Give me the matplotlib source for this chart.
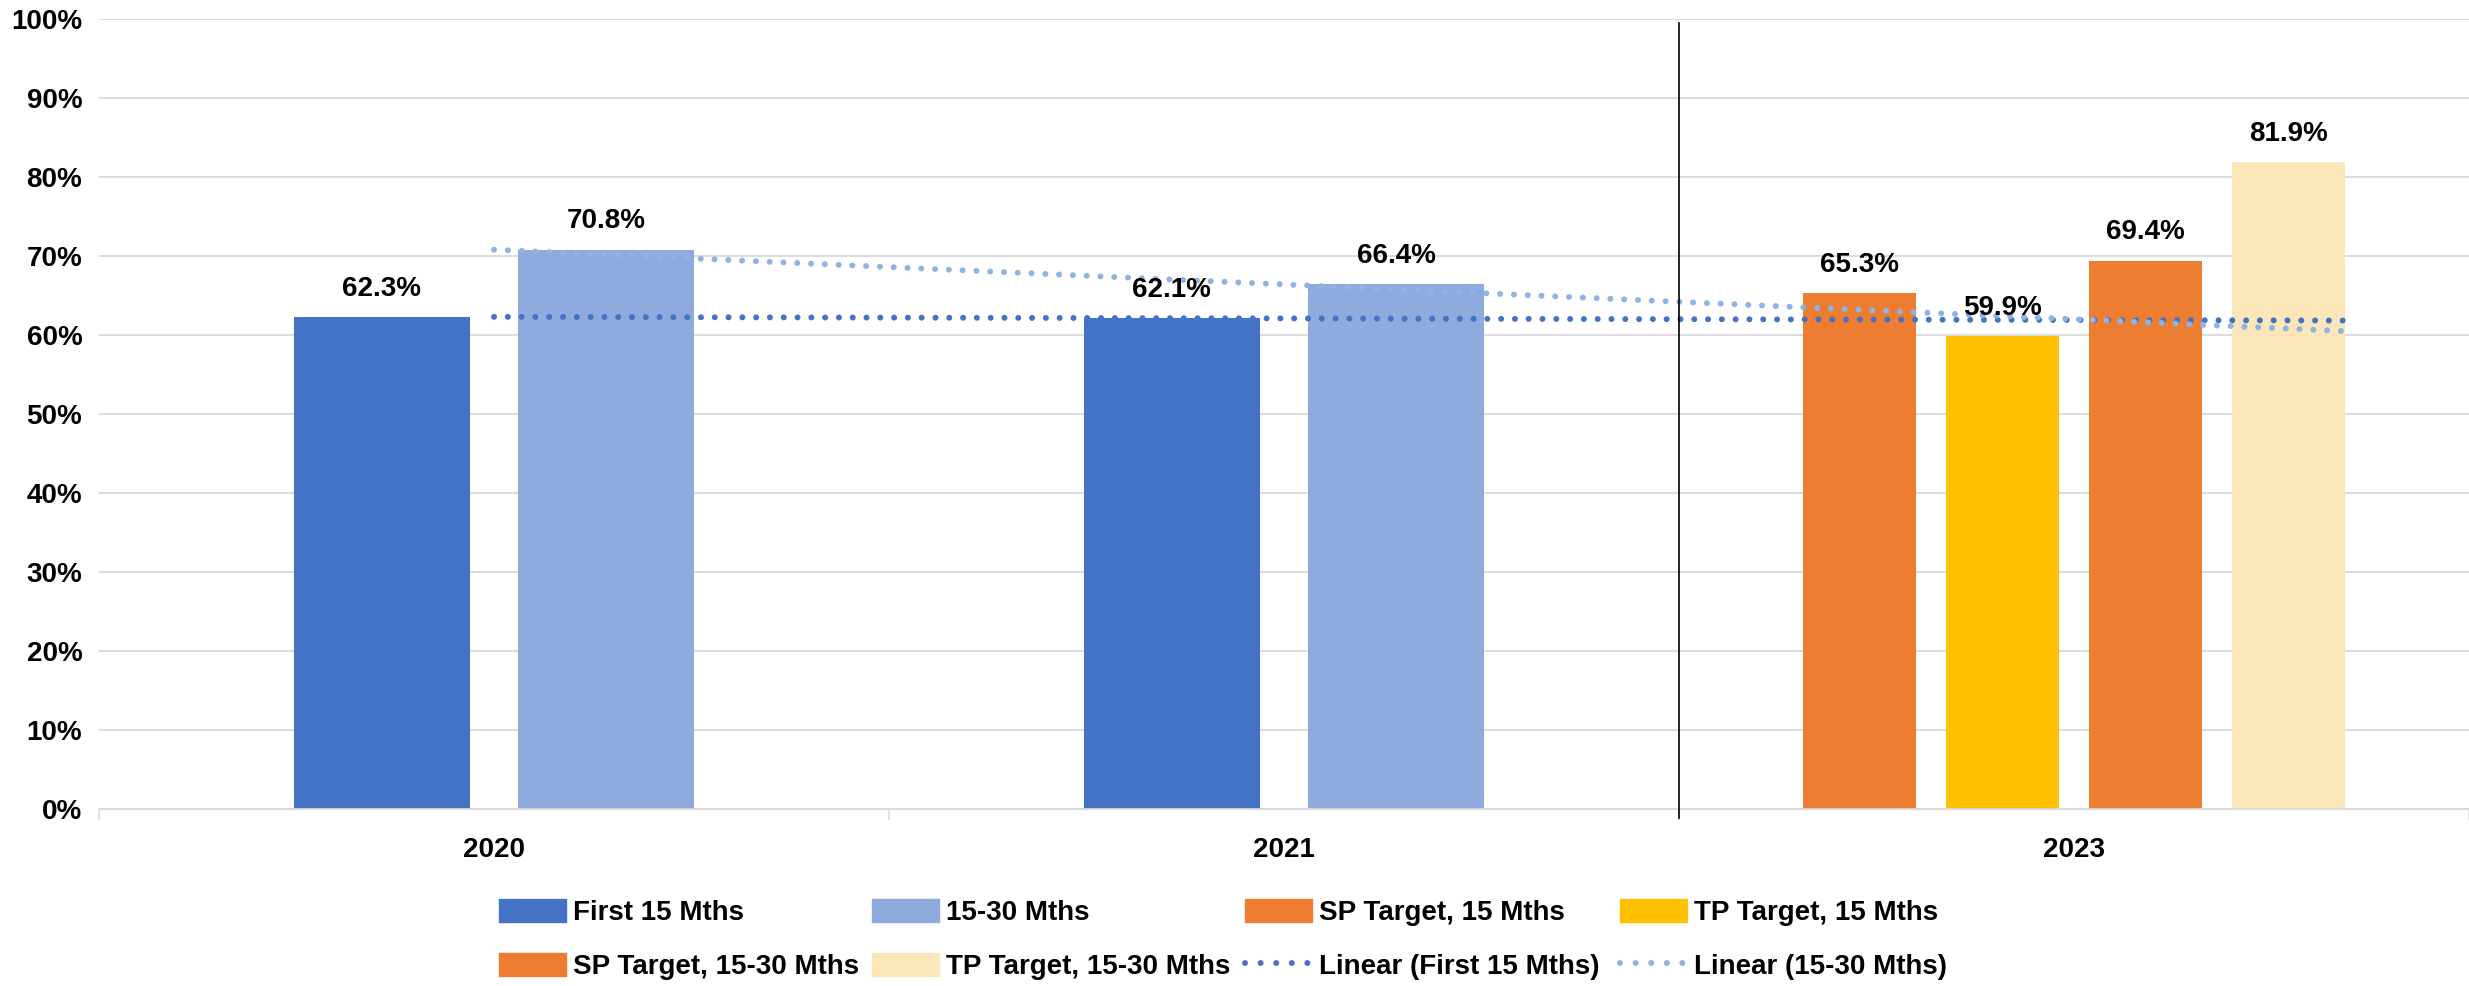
import numpy as np
import matplotlib
matplotlib.use("Agg")
import matplotlib.pyplot as plt
from matplotlib.patches import Patch
from matplotlib.lines import Line2D
from matplotlib.ticker import FuncFormatter

plt.rcParams['font.family'] = ['Liberation Sans Narrow', 'Liberation Sans', 'DejaVu Sans']
plt.rcParams['font.weight'] = 'bold'

# data
categories = ['2020', '2021', '2023']
first_15 = [62.3, 62.1, np.nan]
mths_15_30 = [70.8, 66.4, np.nan]
sp_target_15 = [np.nan, np.nan, 65.3]
tp_target_15 = [np.nan, np.nan, 59.9]
sp_target_15_30 = [np.nan, np.nan, 69.4]
tp_target_15_30 = [np.nan, np.nan, 81.9]
y_ticks = [0, 10, 20, 30, 40, 50, 60, 70, 80, 90, 100]

c_first = '#4472C4'
c_1530 = '#8FAADC'
c_sp = '#ED7D31'
c_tp = '#FFC000'
c_tp_light = '#FAE6B8'
c_trend_first = '#4472C4'
c_trend_1530 = '#8DB4E2'
grid_c = '#D9D9D9'
fs = 20

fig = plt.figure(figsize=(24.69, 9.86), dpi=100)
W, H = 2469, 986
ax = fig.add_axes([99 / W, 1 - 809 / H, (2469 - 99) / W, (809 - 19) / H])

x = np.arange(len(categories))

# first group: two wide bars, second group: four narrow bars
wide_w, wide_step = 0.223, 0.284
narrow_w, narrow_step = 0.143, 0.181

wide_series = [(first_15, c_first, 'First 15 Mths'),
               (mths_15_30, c_1530, '15-30 Mths')]
narrow_series = [(sp_target_15, c_sp, 'SP Target, 15 Mths'),
                 (tp_target_15, c_tp, 'TP Target, 15 Mths'),
                 (sp_target_15_30, c_sp, 'SP Target, 15-30 Mths'),
                 (tp_target_15_30, c_tp_light, 'TP Target, 15-30 Mths')]

def draw_group(series, width, step):
    n = len(series)
    for i, (vals, col, lab) in enumerate(series):
        off = (i - (n - 1) / 2) * step
        vals = np.array(vals, dtype=float)
        ax.bar(x + off, np.nan_to_num(vals), width, color=col, zorder=2)
        for xi, v in zip(x + off, vals):
            if not np.isnan(v):
                ax.annotate(f'{v:.1f}%', (xi, v), xytext=(0, 11),
                            textcoords='offset points', ha='center', va='bottom',
                            fontsize=fs, fontweight='bold', zorder=5)

draw_group(wide_series, wide_w, wide_step)
draw_group(narrow_series, narrow_w, narrow_step)

# linear trendlines over the first two series
trend_end = 2.35
xs = np.array([0, trend_end])
dot = (0, (0.01, 2.3))
for vals, col in [(first_15, c_trend_first), (mths_15_30, c_trend_1530)]:
    vals = np.array(vals, dtype=float)
    ok = ~np.isnan(vals)
    k, b = np.polyfit(x[ok], vals[ok], 1)
    ax.plot(xs, k * xs + b, color=col, lw=4.3, linestyle=dot,
            dash_capstyle='round', zorder=3)

# separator line between actuals and targets
ax.axvline(1.5, ymin=-0.012, ymax=0.995, color='black', lw=1.2, clip_on=False, zorder=4)

ax.set_xlim(-0.5, 2.5)
ax.set_ylim(0, 100)
ax.set_yticks(y_ticks)
ax.yaxis.set_major_formatter(FuncFormatter(lambda v, p: f'{v:.0f}%'))
ax.set_xticks(x)
ax.set_xticklabels(categories)
ax.set_xticks([-0.5, 0.5, 1.5, 2.5], minor=True)
ax.tick_params(axis='x', which='major', length=0, pad=20, labelsize=fs)
ax.tick_params(axis='x', which='minor', length=8, width=1.1, color=grid_c)
ax.tick_params(axis='y', length=0, pad=12, labelsize=fs)
for lab in ax.get_xticklabels() + ax.get_yticklabels():
    lab.set_fontweight('bold')

ax.grid(axis='y', color=grid_c, lw=1.3, zorder=0)
ax.set_axisbelow(True)
for s in ['top', 'right', 'left']:
    ax.spines[s].set_visible(False)
ax.spines['bottom'].set_color(grid_c)
ax.spines['bottom'].set_linewidth(1.3)

# legend in four equal-width columns, like Excel
leg_dot = (0, (0.01, 2.6))
leg_handles = [
    [Patch(color=c_first), Patch(color=c_sp)],
    [Patch(color=c_1530), Patch(color=c_tp_light)],
    [Patch(color=c_sp), Line2D([], [], color=c_trend_first, lw=4.3, linestyle=leg_dot, dash_capstyle='round')],
    [Patch(color=c_tp), Line2D([], [], color=c_trend_1530, lw=4.3, linestyle=leg_dot, dash_capstyle='round')],
]
leg_labels = [
    ['First 15 Mths', 'SP Target, 15-30 Mths'],
    ['15-30 Mths', 'TP Target, 15-30 Mths'],
    ['SP Target, 15 Mths', 'Linear (First 15 Mths)'],
    ['TP Target, 15 Mths', 'Linear (15-30 Mths)'],
]
col_x = [499, 872, 1245, 1620]
for cx, hs, ls in zip(col_x, leg_handles, leg_labels):
    fig.legend(hs, ls, loc='upper left', bbox_to_anchor=(cx / W, 1 - 899 / H),
               frameon=False, borderpad=0, borderaxespad=0,
               handlelength=2.4, handleheight=0.9, handletextpad=0.25,
               labelspacing=0.95, prop={'weight': 'bold', 'size': fs})

fig.savefig('out.png', dpi=100)
